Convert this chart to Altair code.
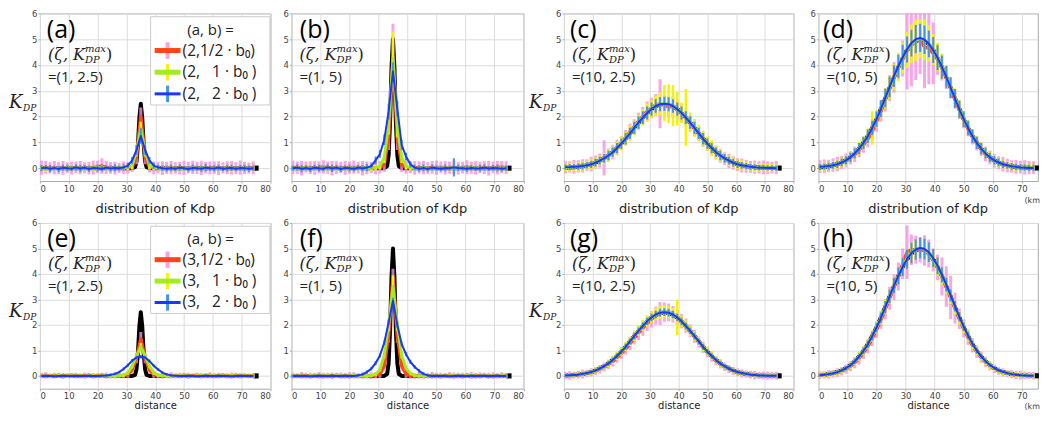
import altair as alt
import pandas as pd

# ---------------- data ----------------
X = [0.5, 2, 3.5, 5, 6.5, 8, 9.5, 11, 12.5, 14,
     15.5, 17, 18.5, 20, 21.5, 23, 24.5, 26, 27.5, 29,
     30.5, 32, 33.5, 35, 36.5, 38, 39.5, 41, 42.5, 44,
     45.5, 47, 48.5, 50, 51.5, 53, 54.5, 56, 57.5, 59,
     60.5, 62, 63.5, 65, 66.5, 68, 69.5, 71, 72.5, 74]

X_TICKS = [0, 10, 20, 30, 40, 50, 60, 70, 80]
Y_TICKS = [0, 1, 2, 3, 4, 5, 6]

# true profiles (black)
TX_N = [0, 31, 32, 33, 33.5, 34, 34.5, 35, 35.5, 36, 36.5, 37, 38, 39, 75]
TN_25 = [0, 0, 0, 0.04, 0.25, 0.9, 1.94, 2.5, 1.94, 0.9, 0.25, 0.04, 0, 0, 0]
TN_5 = [0, 0, 0, 0.08, 0.5, 1.8, 3.88, 5.0, 3.88, 1.8, 0.5, 0.08, 0, 0, 0]
TX_B = [0, 2.5, 5, 7.5, 10, 12.5, 15, 17.5, 20, 22.5, 25, 27.5, 30, 32.5, 35,
        37.5, 40, 42.5, 45, 47.5, 50, 52.5, 55, 57.5, 60, 62.5, 65, 67.5, 70, 72.5, 75]
TB_25 = [0.013, 0.027, 0.053, 0.098, 0.17, 0.285, 0.45, 0.67, 0.95, 1.28, 1.63, 1.96, 2.25, 2.43, 2.5,
         2.43, 2.25, 1.96, 1.63, 1.28, 0.95, 0.67, 0.45, 0.285, 0.17, 0.098, 0.053, 0.027, 0.013, 0.006, 0.003]
TB_5 = [0.026, 0.054, 0.106, 0.196, 0.34, 0.57, 0.9, 1.34, 1.9, 2.56, 3.26, 3.92, 4.5, 4.86, 5.0,
        4.86, 4.5, 3.92, 3.26, 2.56, 1.9, 1.34, 0.9, 0.57, 0.34, 0.196, 0.106, 0.054, 0.026, 0.012, 0.006]

# ---- panel (a) ----
RED_A = [0.02, 0.03, 0.01, 0.02, 0.0, 0.01, 0.02, 0.0, 0.03, 0.02,
         0.01, 0.0, 0.02, 0.05, 0.08, 0.03, 0.01, 0.0, 0.01, 0.02,
         0.01, 0.05, 0.45, 2.0, 0.45, 0.05, 0.01, 0.02, 0.0, 0.01,
         0.02, 0.01, 0.0, 0.01, 0.02, 0.03, 0.01, 0.0, 0.02, 0.01,
         0.02, 0.0, 0.01, 0.02, 0.01, 0.0, 0.02, 0.01, 0.0, 0.01]
GREEN_A = [0.0, -0.02, 0.01, 0.0, -0.01, 0.01, 0.0, -0.02, 0.0, 0.01,
           0.0, -0.01, 0.01, 0.0, 0.02, 0.0, -0.01, 0.0, 0.01, 0.02,
           0.04, 0.12, 0.65, 1.55, 0.65, 0.12, 0.03, 0.0, -0.01, 0.0,
           0.01, 0.0, -0.02, 0.0, 0.01, 0.0, -0.01, 0.0, 0.01, 0.0,
           -0.01, 0.0, 0.01, 0.0, -0.02, 0.0, 0.01, 0.0, -0.01, 0.0]
BLUE_A = [0.0, 0.02, -0.02, 0.01, -0.03, 0.02, 0.0, -0.02, 0.03, -0.01,
          0.02, -0.03, 0.01, 0.0, -0.02, 0.02, -0.01, 0.01, 0.0, 0.03,
          0.1, 0.3, 0.7, 1.25, 0.7, 0.3, 0.1, 0.03, 0.0, -0.02,
          0.01, -0.02, 0.02, 0.0, -0.03, 0.01, 0.0, -0.02, 0.02, 0.0,
          -0.01, 0.02, -0.02, 0.0, 0.01, -0.02, 0.01, 0.0, -0.02, 0.0]
PINK_A = [0.28, 0.25, 0.22, 0.26, 0.24, 0.27, 0.2, 0.25, 0.23, 0.26,
          0.22, 0.25, 0.27, 0.24, 0.3, 0.26, 0.23, 0.25, 0.2, 0.24,
          0.22, 0.2, 0.3, 0.35, 0.3, 0.22, 0.25, 0.23, 0.27, 0.24,
          0.26, 0.22, 0.25, 0.28, 0.23, 0.26, 0.24, 0.27, 0.22, 0.25,
          0.24, 0.27, 0.22, 0.25, 0.26, 0.23, 0.28, 0.24, 0.22, 0.25]
YELLOW_A = [0.1, 0.12, 0.08, 0.1, 0.11, 0.09, 0.12, 0.1, 0.08, 0.11,
            0.1, 0.09, 0.12, 0.1, 0.08, 0.11, 0.1, 0.12, 0.09, 0.1,
            0.11, 0.15, 0.2, 0.25, 0.2, 0.15, 0.1, 0.09, 0.11, 0.1,
            0.12, 0.08, 0.1, 0.11, 0.09, 0.1, 0.12, 0.1, 0.08, 0.11,
            0.1, 0.09, 0.12, 0.1, 0.11, 0.08, 0.1, 0.12, 0.09, 0.1]
LBLUE_A = [0.12, 0.1, 0.14, 0.09, 0.12, 0.11, 0.13, 0.1, 0.12, 0.14,
           0.1, 0.12, 0.09, 0.13, 0.11, 0.1, 0.12, 0.14, 0.1, 0.12,
           0.11, 0.13, 0.2, 0.3, 0.2, 0.13, 0.12, 0.1, 0.11, 0.12,
           0.13, 0.1, 0.12, 0.09, 0.11, 0.13, 0.1, 0.12, 0.14, 0.1,
           0.12, 0.11, 0.1, 0.13, 0.12, 0.1, 0.11, 0.13, 0.12, 0.1]

# ---- panel (b) ----
RED_B = [0.03, 0.02, 0.0, 0.04, 0.02, 0.01, 0.03, 0.05, 0.02, 0.0,
         0.02, 0.03, 0.01, 0.02, 0.04, 0.02, 0.0, 0.01, 0.03, 0.02,
         0.03, 0.15, 1.2, 4.3, 1.2, 0.15, 0.03, 0.02, 0.01, 0.03,
         0.02, 0.0, 0.03, 0.02, 0.04, 0.01, 0.02, 0.03, 0.0, 0.02,
         0.04, 0.02, 0.01, 0.03, 0.02, 0.0, 0.03, 0.02, 0.04, 0.02]
GREEN_B = [0.0, -0.02, 0.01, 0.02, 0.0, -0.01, 0.01, 0.0, -0.02, 0.01,
           0.0, 0.01, -0.01, 0.0, 0.02, 0.0, -0.01, 0.01, 0.0, 0.02,
           0.08, 0.4, 1.7, 4.25, 1.6, 0.4, 0.08, 0.02, 0.0, -0.01,
           0.01, 0.0, -0.02, 0.01, 0.0, 0.02, -0.01, 0.0, 0.01, 0.0,
           -0.01, 0.01, 0.0, 0.02, -0.01, 0.0, 0.01, -0.02, 0.0, 0.01]
BLUE_B = [0.0, 0.02, -0.02, 0.01, -0.03, 0.02, 0.0, -0.02, 0.03, -0.01,
          0.02, -0.03, 0.01, 0.0, -0.02, 0.02, -0.01, 0.02, 0.08, 0.3,
          0.55, 1.1, 2.2, 3.75, 2.3, 0.9, 0.45, 0.15, 0.02, -0.02,
          0.01, -0.03, 0.02, 0.0, -0.02, 0.01, 0.0, 0.03, 0.01, 0.0,
          -0.02, 0.01, -0.01, 0.0, 0.02, -0.01, 0.01, 0.0, -0.02, 0.0]
PINK_B = [0.26, 0.24, 0.28, 0.22, 0.25, 0.27, 0.23, 0.26, 0.24, 0.28,
          0.25, 0.22, 0.27, 0.24, 0.26, 0.23, 0.28, 0.25, 0.22, 0.26,
          0.24, 0.3, 0.5, 1.3, 0.5, 0.3, 0.25, 0.22, 0.27, 0.24,
          0.26, 0.23, 0.25, 0.28, 0.22, 0.26, 0.24, 0.27, 0.25, 0.23,
          0.27, 0.24, 0.26, 0.22, 0.25, 0.28, 0.23, 0.26, 0.24, 0.25]
YELLOW_B = [0.1, 0.12, 0.09, 0.11, 0.1, 0.13, 0.09, 0.1, 0.12, 0.1,
            0.11, 0.09, 0.1, 0.12, 0.1, 0.11, 0.09, 0.12, 0.1, 0.11,
            0.12, 0.2, 0.4, 1.05, 0.4, 0.2, 0.12, 0.1, 0.11, 0.09,
            0.1, 0.12, 0.1, 0.09, 0.11, 0.1, 0.12, 0.1, 0.09, 0.11,
            0.1, 0.12, 0.09, 0.1, 0.11, 0.1, 0.12, 0.09, 0.1, 0.11]
LBLUE_B = [0.1, 0.12, 0.14, 0.1, 0.12, 0.11, 0.13, 0.1, 0.12, 0.14,
           0.1, 0.12, 0.1, 0.13, 0.11, 0.1, 0.12, 0.14, 0.1, 0.15,
           0.15, 0.2, 0.3, 0.35, 0.3, 0.2, 0.15, 0.12, 0.11, 0.12,
           0.13, 0.1, 0.12, 0.1, 0.11, 0.13, 0.1, 0.35, 0.12, 0.1,
           0.12, 0.11, 0.1, 0.13, 0.12, 0.1, 0.11, 0.13, 0.12, 0.1]

# ---- panel (c) ----
RED_C = [0.04, 0.05, 0.05, 0.07, 0.09, 0.12, 0.16, 0.24, 0.3, 0.4,
         0.5, 0.63, 0.8, 0.97, 1.18, 1.4, 1.6, 1.82, 2.02, 2.2,
         2.33, 2.45, 2.5, 2.44, 2.38, 2.4, 2.27, 2.12, 1.94, 1.75,
         1.54, 1.33, 1.12, 0.94, 0.77, 0.6, 0.48, 0.37, 0.28, 0.2,
         0.14, 0.1, 0.07, 0.05, 0.04, 0.03, 0.03, 0.02, 0.02, 0.02]
GREEN_C = [0.03, 0.04, 0.04, 0.06, 0.08, 0.11, 0.15, 0.22, 0.29, 0.38,
           0.5, 0.62, 0.78, 0.96, 1.15, 1.36, 1.57, 1.78, 1.97, 2.15,
           2.3, 2.42, 2.5, 2.52, 2.5, 2.42, 2.3, 2.15, 1.97, 1.78,
           1.57, 1.36, 1.15, 0.95, 0.78, 0.62, 0.49, 0.38, 0.28, 0.21,
           0.15, 0.11, 0.08, 0.05, 0.04, 0.02, 0.02, 0.01, 0.01, 0.01]
BLUE_C = [0.04, 0.04, 0.05, 0.06, 0.08, 0.11, 0.15, 0.21, 0.29, 0.38,
          0.49, 0.62, 0.78, 0.95, 1.14, 1.35, 1.56, 1.77, 1.96, 2.14,
          2.29, 2.41, 2.48, 2.5, 2.48, 2.41, 2.29, 2.14, 1.96, 1.77,
          1.56, 1.35, 1.14, 0.95, 0.78, 0.62, 0.49, 0.38, 0.29, 0.21,
          0.15, 0.11, 0.08, 0.05, 0.04, 0.02, 0.02, 0.01, 0.01, 0.0]
PINK_C = [0.25, 0.22, 0.27, 0.24, 0.26, 0.23, 0.28, 0.25, 0.27, 0.68,
          0.26, 0.28, 0.3, 0.27, 0.3, 0.32, 0.3, 0.33, 0.35, 0.38,
          0.4, 0.42, 0.95, 0.4, 0.42, 0.38, 0.36, 0.35, 0.33, 0.3,
          0.3, 0.28, 0.3, 0.27, 0.28, 0.26, 0.27, 0.25, 0.28, 0.26,
          0.24, 0.27, 0.25, 0.23, 0.26, 0.24, 0.27, 0.25, 0.23, 0.26]
YELLOW_C = [0.15, 0.18, 0.15, 0.17, 0.2, 0.18, 0.2, 0.22, 0.2, 0.22,
            0.25, 0.22, 0.25, 0.28, 0.25, 0.3, 0.28, 0.3, 0.32, 0.35,
            0.35, 0.4, 0.45, 0.7, 0.75, 0.8, 0.65, 0.4, 1.1, 0.38,
            0.35, 0.32, 0.3, 0.28, 0.3, 0.27, 0.25, 0.22, 0.2, 0.2,
            0.18, 0.2, 0.17, 0.15, 0.18, 0.16, 0.15, 0.17, 0.15, 0.14]
LBLUE_C = [0.1, 0.12, 0.1, 0.12, 0.13, 0.12, 0.14, 0.15, 0.15, 0.17,
           0.18, 0.18, 0.2, 0.2, 0.22, 0.22, 0.24, 0.24, 0.25, 0.25,
           0.26, 0.26, 0.27, 0.27, 0.27, 0.26, 0.26, 0.25, 0.25, 0.24,
           0.24, 0.22, 0.22, 0.2, 0.2, 0.18, 0.18, 0.17, 0.15, 0.15,
           0.14, 0.13, 0.12, 0.12, 0.11, 0.1, 0.1, 0.1, 0.1, 0.1]

# ---- panel (d) ----
RED_D = [0.06, 0.07, 0.09, 0.12, 0.16, 0.22, 0.3, 0.4, 0.53, 0.7,
         0.9, 1.12, 1.42, 1.8, 2.2, 2.65, 3.1, 3.52, 3.9, 4.25,
         4.55, 4.78, 4.92, 4.95, 4.7, 4.65, 4.45, 4.22, 3.9, 3.52,
         3.1, 2.68, 2.26, 1.88, 1.54, 1.22, 0.96, 0.74, 0.55, 0.41,
         0.29, 0.21, 0.15, 0.1, 0.07, 0.05, 0.04, 0.03, 0.02, 0.02]
GREEN_D = [0.05, 0.06, 0.08, 0.11, 0.16, 0.22, 0.3, 0.42, 0.57, 0.76,
           0.98, 1.24, 1.56, 1.9, 2.28, 2.7, 3.12, 3.54, 3.92, 4.28,
           4.58, 4.82, 4.96, 5.02, 4.98, 4.84, 4.6, 4.3, 3.94, 3.56,
           3.14, 2.72, 2.3, 1.92, 1.57, 1.25, 0.99, 0.77, 0.58, 0.43,
           0.31, 0.22, 0.16, 0.11, 0.07, 0.05, 0.03, 0.02, 0.02, 0.01]
BLUE_D = [0.05, 0.06, 0.08, 0.11, 0.15, 0.22, 0.3, 0.42, 0.57, 0.76,
          0.98, 1.24, 1.56, 1.9, 2.3, 2.72, 3.15, 3.57, 3.95, 4.3,
          4.6, 4.85, 5.0, 5.05, 4.98, 4.82, 4.58, 4.28, 3.92, 3.54,
          3.12, 2.7, 2.28, 1.9, 1.56, 1.24, 0.98, 0.76, 0.57, 0.42,
          0.3, 0.22, 0.15, 0.11, 0.07, 0.05, 0.03, 0.02, 0.01, 0.01]
PINK_D = [0.25, 0.27, 0.24, 0.26, 0.28, 0.25, 0.27, 0.26, 0.3, 0.28,
          0.3, 0.32, 0.35, 0.38, 0.4, 0.45, 0.5, 0.6, 0.5, 0.7,
          1.5, 1.6, 1.5, 1.3, 1.6, 1.4, 1.2, 0.6, 0.5, 0.45,
          0.4, 0.38, 0.35, 0.33, 0.3, 0.3, 0.28, 0.27, 0.28, 0.26,
          0.27, 0.25, 0.28, 0.26, 0.24, 0.27, 0.25, 0.28, 0.26, 0.25]
YELLOW_D = [0.15, 0.17, 0.15, 0.16, 0.18, 0.17, 0.2, 0.2, 0.22, 0.25,
            0.25, 0.3, 0.65, 0.35, 0.35, 0.4, 0.45, 0.5, 0.55, 0.6,
            0.7, 0.75, 0.8, 0.75, 0.8, 0.7, 0.6, 0.55, 0.5, 0.45,
            0.4, 0.38, 0.35, 0.3, 0.28, 0.25, 0.25, 0.22, 0.2, 0.2,
            0.18, 0.18, 0.16, 0.16, 0.15, 0.15, 0.15, 0.14, 0.14, 0.13]
LBLUE_D = [0.12, 0.12, 0.13, 0.13, 0.14, 0.15, 0.16, 0.18, 0.2, 0.22,
           0.24, 0.26, 0.28, 0.3, 0.33, 0.36, 0.4, 0.42, 0.45, 0.48,
           0.5, 0.52, 0.55, 0.55, 0.55, 0.52, 0.5, 0.48, 0.45, 0.42,
           0.4, 0.36, 0.33, 0.3, 0.28, 0.26, 0.24, 0.22, 0.2, 0.18,
           0.16, 0.15, 0.14, 0.13, 0.13, 0.12, 0.12, 0.12, 0.12, 0.12]

# ---- panel (e) ----
RED_E = [0.01, 0.02, 0.0, 0.01, 0.02, 0.0, 0.01, 0.02, 0.01, 0.0,
         0.01, 0.02, 0.0, 0.01, 0.02, 0.01, 0.0, 0.01, 0.02, 0.01,
         0.05, 0.25, 0.7, 1.45, 0.7, 0.25, 0.05, 0.01, 0.0, 0.01,
         0.02, 0.0, 0.01, 0.02, 0.0, 0.01, 0.02, 0.0, 0.01, 0.02,
         0.0, 0.01, 0.02, 0.0, 0.01, 0.02, 0.0, 0.01, 0.0, 0.01]
GREEN_E = [0.0, 0.01, -0.01, 0.0, 0.01, 0.0, -0.01, 0.0, 0.01, 0.0,
           -0.01, 0.0, 0.01, 0.0, 0.0, 0.01, 0.0, -0.01, 0.01, 0.03,
           0.12, 0.38, 0.78, 1.15, 0.78, 0.38, 0.12, 0.03, 0.01, 0.0,
           -0.01, 0.0, 0.01, 0.0, 0.0, -0.01, 0.0, 0.01, 0.0, 0.0,
           0.01, 0.0, -0.01, 0.0, 0.01, 0.0, 0.0, -0.01, 0.0, 0.0]
BLUE_E = [0.0, 0.01, 0.0, -0.01, 0.0, 0.01, 0.0, 0.0, 0.01, 0.0,
          0.0, 0.01, 0.0, 0.0, 0.01, 0.02, 0.04, 0.08, 0.15, 0.27,
          0.42, 0.6, 0.72, 0.75, 0.72, 0.58, 0.4, 0.25, 0.13, 0.06,
          0.02, 0.01, 0.0, 0.0, 0.01, 0.0, -0.01, 0.0, 0.01, 0.0,
          0.0, 0.01, 0.0, 0.0, -0.01, 0.0, 0.01, 0.0, 0.0, 0.0]
PINK_E = [0.1, 0.12, 0.09, 0.11, 0.1, 0.12, 0.1, 0.09, 0.11, 0.1,
          0.12, 0.1, 0.11, 0.09, 0.1, 0.12, 0.1, 0.11, 0.09, 0.1,
          0.12, 0.15, 0.2, 0.27, 0.2, 0.15, 0.12, 0.1, 0.11, 0.1,
          0.12, 0.1, 0.11, 0.1, 0.12, 0.09, 0.1, 0.11, 0.1, 0.12,
          0.1, 0.11, 0.09, 0.1, 0.12, 0.1, 0.11, 0.1, 0.09, 0.1]
YELLOW_E = [0.06, 0.05, 0.07, 0.05, 0.06, 0.05, 0.07, 0.06, 0.05, 0.06,
            0.05, 0.07, 0.06, 0.05, 0.06, 0.05, 0.07, 0.06, 0.05, 0.06,
            0.07, 0.08, 0.1, 0.14, 0.1, 0.08, 0.07, 0.06, 0.05, 0.06,
            0.05, 0.07, 0.06, 0.05, 0.06, 0.05, 0.07, 0.06, 0.05, 0.06,
            0.06, 0.05, 0.07, 0.05, 0.06, 0.05, 0.06, 0.07, 0.05, 0.06]
LBLUE_E = [0.04, 0.05, 0.04, 0.05, 0.04, 0.05, 0.04, 0.05, 0.04, 0.05,
           0.04, 0.05, 0.04, 0.05, 0.04, 0.05, 0.05, 0.05, 0.05, 0.06,
           0.06, 0.06, 0.07, 0.07, 0.07, 0.06, 0.06, 0.06, 0.05, 0.05,
           0.05, 0.04, 0.05, 0.04, 0.05, 0.04, 0.05, 0.04, 0.05, 0.04,
           0.05, 0.04, 0.05, 0.04, 0.05, 0.04, 0.05, 0.04, 0.05, 0.04]

# ---- panel (f) ----
RED_F = [0.01, 0.0, 0.02, 0.01, 0.0, 0.01, 0.02, 0.0, 0.01, 0.0,
         0.02, 0.01, 0.0, 0.01, 0.02, 0.0, 0.01, 0.0, 0.01, 0.02,
         0.08, 0.4, 1.6, 3.85, 1.6, 0.4, 0.08, 0.01, 0.0, 0.02,
         0.01, 0.0, 0.02, 0.01, 0.0, 0.01, 0.02, 0.0, 0.01, 0.0,
         0.02, 0.01, 0.0, 0.01, 0.02, 0.0, 0.01, 0.0, 0.02, 0.01]
GREEN_F = [0.0, 0.01, 0.0, -0.01, 0.0, 0.01, 0.0, 0.0, 0.01, 0.0,
           0.0, 0.01, 0.0, 0.0, 0.01, 0.0, 0.01, 0.0, 0.02, 0.06,
           0.25, 0.8, 2.0, 3.5, 2.0, 0.8, 0.3, 0.1, 0.02, 0.0,
           0.01, 0.0, 0.0, 0.01, 0.0, -0.01, 0.0, 0.01, 0.0, 0.0,
           0.01, 0.0, 0.0, -0.01, 0.0, 0.01, 0.0, 0.0, 0.01, 0.0]
BLUE_F = [0.0, 0.01, 0.0, 0.0, -0.01, 0.0, 0.01, 0.0, 0.0, 0.01,
          0.0, 0.0, 0.01, 0.0, 0.0, 0.02, 0.06, 0.15, 0.28, 0.5,
          0.8, 1.3, 2.1, 2.95, 2.0, 1.25, 0.85, 0.55, 0.35, 0.2,
          0.08, 0.02, 0.0, 0.01, 0.0, 0.0, -0.01, 0.0, 0.01, 0.0,
          0.0, 0.01, 0.0, 0.0, 0.01, 0.0, 0.0, 0.01, 0.0, 0.0]
PINK_F = [0.12, 0.1, 0.13, 0.11, 0.12, 0.1, 0.13, 0.12, 0.11, 0.13,
          0.1, 0.12, 0.11, 0.13, 0.12, 0.1, 0.12, 0.11, 0.13, 0.12,
          0.15, 0.2, 0.3, 0.35, 0.3, 0.2, 0.15, 0.12, 0.11, 0.13,
          0.12, 0.1, 0.13, 0.11, 0.12, 0.1, 0.12, 0.13, 0.11, 0.12,
          0.1, 0.13, 0.11, 0.12, 0.1, 0.12, 0.13, 0.11, 0.12, 0.1]
YELLOW_F = [0.06, 0.07, 0.05, 0.06, 0.07, 0.06, 0.05, 0.07, 0.06, 0.05,
            0.07, 0.06, 0.05, 0.06, 0.07, 0.06, 0.05, 0.07, 0.06, 0.07,
            0.08, 0.12, 0.25, 0.45, 0.25, 0.12, 0.08, 0.07, 0.06, 0.05,
            0.07, 0.06, 0.05, 0.07, 0.06, 0.05, 0.06, 0.07, 0.06, 0.05,
            0.06, 0.07, 0.05, 0.06, 0.07, 0.06, 0.05, 0.06, 0.07, 0.06]
LBLUE_F = [0.05, 0.06, 0.05, 0.06, 0.05, 0.06, 0.05, 0.06, 0.05, 0.06,
           0.05, 0.06, 0.05, 0.06, 0.05, 0.06, 0.06, 0.07, 0.07, 0.08,
           0.08, 0.09, 0.1, 0.12, 0.1, 0.09, 0.08, 0.08, 0.07, 0.07,
           0.06, 0.06, 0.05, 0.06, 0.05, 0.06, 0.05, 0.06, 0.05, 0.06,
           0.05, 0.06, 0.05, 0.06, 0.05, 0.06, 0.05, 0.06, 0.05, 0.06]

# ---- panel (g) ----
RED_G = [0.01, 0.02, 0.03, 0.05, 0.07, 0.1, 0.14, 0.19, 0.26, 0.35,
         0.45, 0.57, 0.72, 0.88, 1.06, 1.27, 1.48, 1.69, 1.88, 2.06,
         2.22, 2.36, 2.45, 2.5, 2.49, 2.42, 2.3, 2.15, 1.97, 1.77,
         1.55, 1.33, 1.12, 0.93, 0.76, 0.6, 0.47, 0.36, 0.27, 0.2,
         0.14, 0.1, 0.07, 0.05, 0.03, 0.02, 0.02, 0.01, 0.01, 0.01]
GREEN_G = [0.02, 0.03, 0.04, 0.06, 0.08, 0.11, 0.15, 0.21, 0.28, 0.38,
           0.49, 0.62, 0.78, 0.96, 1.15, 1.36, 1.57, 1.78, 1.97, 2.15,
           2.3, 2.42, 2.49, 2.52, 2.5, 2.42, 2.3, 2.15, 1.97, 1.77,
           1.56, 1.35, 1.14, 0.95, 0.78, 0.62, 0.49, 0.38, 0.29, 0.21,
           0.15, 0.11, 0.08, 0.05, 0.04, 0.02, 0.02, 0.01, 0.01, 0.01]
BLUE_G = [0.02, 0.03, 0.04, 0.05, 0.08, 0.11, 0.15, 0.21, 0.29, 0.38,
          0.49, 0.62, 0.78, 0.95, 1.14, 1.35, 1.56, 1.77, 1.96, 2.14,
          2.29, 2.41, 2.48, 2.5, 2.48, 2.41, 2.29, 2.14, 1.96, 1.77,
          1.56, 1.35, 1.14, 0.95, 0.78, 0.62, 0.49, 0.38, 0.29, 0.21,
          0.15, 0.11, 0.08, 0.05, 0.04, 0.02, 0.02, 0.01, 0.01, 0.01]
PINK_G = [0.14, 0.16, 0.13, 0.15, 0.17, 0.14, 0.16, 0.15, 0.17, 0.18,
          0.18, 0.2, 0.2, 0.22, 0.22, 0.25, 0.25, 0.28, 0.3, 0.3,
          0.32, 0.35, 0.45, 0.38, 0.35, 0.32, 0.3, 0.28, 0.28, 0.25,
          0.25, 0.22, 0.22, 0.2, 0.2, 0.18, 0.18, 0.17, 0.16, 0.16,
          0.15, 0.16, 0.14, 0.15, 0.17, 0.14, 0.15, 0.16, 0.14, 0.15]
YELLOW_G = [0.08, 0.09, 0.08, 0.09, 0.1, 0.1, 0.11, 0.12, 0.12, 0.13,
            0.14, 0.15, 0.16, 0.17, 0.18, 0.19, 0.2, 0.21, 0.22, 0.22,
            0.23, 0.24, 0.25, 0.25, 0.25, 0.24, 0.7, 0.22, 0.21, 0.2,
            0.19, 0.18, 0.17, 0.16, 0.15, 0.14, 0.13, 0.12, 0.11, 0.1,
            0.1, 0.09, 0.09, 0.08, 0.08, 0.08, 0.08, 0.08, 0.08, 0.08]
LBLUE_G = [0.06, 0.06, 0.06, 0.07, 0.07, 0.07, 0.08, 0.08, 0.09, 0.09,
           0.1, 0.1, 0.11, 0.11, 0.12, 0.12, 0.13, 0.13, 0.14, 0.14,
           0.15, 0.15, 0.15, 0.15, 0.15, 0.15, 0.15, 0.14, 0.14, 0.13,
           0.13, 0.12, 0.12, 0.11, 0.11, 0.1, 0.1, 0.09, 0.09, 0.08,
           0.08, 0.07, 0.07, 0.07, 0.06, 0.06, 0.06, 0.06, 0.06, 0.06]

# ---- panel (h) ----
RED_H = [0.03, 0.04, 0.06, 0.09, 0.13, 0.19, 0.27, 0.38, 0.52, 0.7,
         0.91, 1.16, 1.47, 1.82, 2.2, 2.62, 3.05, 3.48, 3.9, 4.4,
         4.85, 4.95, 4.95, 4.95, 4.92, 4.8, 4.55, 4.25, 3.9, 3.5,
         3.08, 2.66, 2.24, 1.86, 1.52, 1.2, 0.95, 0.74, 0.55, 0.4,
         0.28, 0.2, 0.14, 0.1, 0.07, 0.04, 0.03, 0.02, 0.02, 0.01]
GREEN_H = [0.03, 0.05, 0.07, 0.1, 0.15, 0.22, 0.3, 0.42, 0.57, 0.76,
           0.98, 1.24, 1.56, 1.9, 2.28, 2.7, 3.12, 3.54, 3.92, 4.3,
           4.6, 4.84, 4.98, 5.02, 4.97, 4.83, 4.58, 4.28, 3.92, 3.54,
           3.12, 2.7, 2.28, 1.9, 1.56, 1.24, 0.98, 0.76, 0.57, 0.42,
           0.3, 0.22, 0.15, 0.11, 0.07, 0.05, 0.03, 0.02, 0.01, 0.01]
BLUE_H = [0.03, 0.05, 0.07, 0.1, 0.15, 0.22, 0.3, 0.42, 0.57, 0.76,
          0.98, 1.24, 1.56, 1.9, 2.28, 2.7, 3.12, 3.54, 3.92, 4.28,
          4.58, 4.82, 4.96, 5.02, 4.98, 4.85, 4.62, 4.32, 3.96, 3.58,
          3.16, 2.74, 2.32, 1.93, 1.58, 1.26, 0.99, 0.77, 0.58, 0.43,
          0.31, 0.22, 0.16, 0.11, 0.07, 0.05, 0.03, 0.02, 0.01, 0.01]
PINK_H = [0.15, 0.14, 0.16, 0.15, 0.17, 0.16, 0.18, 0.2, 0.22, 0.25,
          0.25, 0.28, 0.3, 0.32, 0.35, 0.4, 0.45, 0.5, 0.55, 0.6,
          1.05, 0.6, 0.55, 0.5, 0.6, 0.55, 0.45, 0.5, 0.75, 0.8,
          0.85, 0.6, 0.4, 0.35, 0.3, 0.28, 0.25, 0.22, 0.2, 0.18,
          0.17, 0.15, 0.16, 0.14, 0.15, 0.16, 0.17, 0.15, 0.14, 0.15]
YELLOW_H = [0.1, 0.1, 0.1, 0.11, 0.11, 0.12, 0.13, 0.14, 0.15, 0.17,
            0.18, 0.2, 0.22, 0.24, 0.26, 0.28, 0.3, 0.32, 0.34, 0.35,
            0.36, 0.37, 0.38, 0.38, 0.38, 0.37, 0.36, 0.35, 0.34, 0.32,
            0.3, 0.28, 0.26, 0.24, 0.22, 0.2, 0.18, 0.16, 0.15, 0.14,
            0.13, 0.12, 0.11, 0.11, 0.1, 0.1, 0.1, 0.1, 0.1, 0.1]
LBLUE_H = [0.06, 0.06, 0.07, 0.07, 0.08, 0.08, 0.09, 0.1, 0.11, 0.12,
           0.13, 0.15, 0.17, 0.19, 0.21, 0.24, 0.27, 0.3, 0.33, 0.36,
           0.38, 0.4, 0.4, 0.4, 0.4, 0.38, 0.36, 0.33, 0.3, 0.27,
           0.24, 0.21, 0.19, 0.17, 0.15, 0.13, 0.12, 0.11, 0.1, 0.09,
           0.08, 0.08, 0.07, 0.07, 0.07, 0.06, 0.06, 0.06, 0.06, 0.06]

# panel label, zeta, Kmax, a, truth x, truth y, red, green, blue, pink err, yellow err, light-blue err, label x
PANELS = [
    ["(a)", "1", "2.5", "2", TX_N, TN_25, RED_A, GREEN_A, BLUE_A, PINK_A, YELLOW_A, LBLUE_A, 2.4],
    ["(b)", "1", "5", "2", TX_N, TN_5, RED_B, GREEN_B, BLUE_B, PINK_B, YELLOW_B, LBLUE_B, 2.9],
    ["(c)", "10", "2.5", "2", TX_B, TB_25, RED_C, GREEN_C, BLUE_C, PINK_C, YELLOW_C, LBLUE_C, 2.1],
    ["(d)", "10", "5", "2", TX_B, TB_5, RED_D, GREEN_D, BLUE_D, PINK_D, YELLOW_D, LBLUE_D, 1.6],
    ["(e)", "1", "2.5", "3", TX_N, TN_25, RED_E, GREEN_E, BLUE_E, PINK_E, YELLOW_E, LBLUE_E, 2.5],
    ["(f)", "1", "5", "3", TX_N, TN_5, RED_F, GREEN_F, BLUE_F, PINK_F, YELLOW_F, LBLUE_F, 2.9],
    ["(g)", "10", "2.5", "3", TX_B, TB_25, RED_G, GREEN_G, BLUE_G, PINK_G, YELLOW_G, LBLUE_G, 2.1],
    ["(h)", "10", "5", "3", TX_B, TB_5, RED_H, GREEN_H, BLUE_H, PINK_H, YELLOW_H, LBLUE_H, 1.6],
]
for p in PANELS:
    for arr in p[6:12]:
        assert len(arr) == len(X), (p[0], len(arr))

# legend content (data units of the panel)
LEG_BOX = [38.4, 79.8, 5.87, 2.45]
LEG_HEAD = "(a, b) ="
LEG_ROWS_Y = [4.56, 3.72, 2.88]
LEG_B = ["1/2", "\u00a0\u00a0 1", "\u00a0\u00a0 2"]

# ---------------- style ----------------
C_PINK = "#f590e2"
C_RED = "#ff4614"
C_YEL = "#f4f400"
C_GRN = "#a3ec1e"
C_LBL = "#3d97e3"
C_BLU = "#1a36ff"
F_SANS = "Open Sans"
F_MATH = "DejaVu Serif"
F_AX = "DejaVu Sans"

# the whole figure has to stay inside the 1049x424 window (no page overflow)
ROW_H = [168, 166]
WIDTHS = [231, 232.5, 230, 219.8]
GAPS = [20.1, 40.0, 24.7]
XMAX = [80, 80, 80, 75.5]
KDP_DX = {0: -31, 2: -35}
ROW_GAP = 42


def make_panel(p, row, col):
    lab, zeta, kmax, a_val, tx, ty, red, grn, blu, pnk, yel, lbl, labx = p
    H, W, xmax = ROW_H[row], WIDTHS[col], XMAX[col]
    xs = alt.Scale(domain=[0, xmax], nice=False, zero=False)
    ys = alt.Scale(domain=[-0.5, 6], nice=False, zero=False)
    xvals = [t for t in X_TICKS if t <= xmax]
    if row == 1:
        xax = alt.Axis(values=xvals, title="distance")
    else:
        xax = alt.Axis(values=xvals, title=None)
    yax = alt.Axis(values=Y_TICKS, title=None)

    def ex(f="x"):
        return alt.X(f, type="quantitative", scale=xs, axis=xax)

    def ey(f="y"):
        return alt.Y(f, type="quantitative", scale=ys, axis=yax)

    L = []
    tdf = pd.DataFrame({"x": tx, "y": ty})
    L.append(alt.Chart(tdf).mark_line(color="black", strokeWidth=4, strokeJoin="round", clip=True)
             .encode(x=ex(), y=ey()))
    L.append(alt.Chart(tdf.tail(1)).mark_square(color="black", size=26, opacity=1)
             .encode(x=ex(), y=ey()))
    sets = [(red, pnk, C_PINK, 3, 0.8, C_RED, 3.5),
            (grn, yel, C_YEL, 2.5, 1.0, C_GRN, 3),
            (blu, lbl, C_LBL, 2, 1.0, C_BLU, 2)]
    for vals, errs, bc, bw, bo, lc, lw in sets:
        edf = pd.DataFrame({"x": X,
                            "lo": [v - e for v, e in zip(vals, errs)],
                            "hi": [v + e for v, e in zip(vals, errs)]})
        L.append(alt.Chart(edf).mark_rule(color=bc, strokeWidth=bw, opacity=bo, clip=True)
                 .encode(x=ex(), y=ey("lo"), y2=alt.Y2("hi")))
        cdf = pd.DataFrame({"x": X, "y": vals})
        L.append(alt.Chart(cdf).mark_line(color=lc, strokeWidth=lw, strokeJoin="round", clip=True)
                 .encode(x=ex(), y=ey()))

    # panel letter
    L.append(alt.Chart(pd.DataFrame({"x": [labx], "y": [5.05], "t": [lab]}))
             .mark_text(align="left", baseline="alphabetic", font=F_SANS, fontSize=25, color="black")
             .encode(x=ex(), y=ey(), text="t:N"))
    # (zeta, K_DP^max)
    zx, zy = 2.8, 4.2
    zdf = pd.DataFrame({"x": [zx], "y": [zy]})
    L.append(alt.Chart(zdf).mark_text(align="left", baseline="alphabetic", font=F_MATH, fontStyle="italic",
                                      fontSize=16, color="#222", text="(\u03b6, K")
             .encode(x=ex(), y=ey()))
    L.append(alt.Chart(zdf).mark_text(align="left", baseline="alphabetic", font=F_MATH, fontStyle="italic",
                                      fontSize=10, color="#222", text="max", dx=37, dy=-8)
             .encode(x=ex(), y=ey()))
    L.append(alt.Chart(zdf).mark_text(align="left", baseline="alphabetic", font=F_MATH, fontStyle="italic",
                                      fontSize=10, color="#222", text="DP", dx=37, dy=3)
             .encode(x=ex(), y=ey()))
    L.append(alt.Chart(zdf).mark_text(align="left", baseline="alphabetic", font=F_MATH,
                                      fontSize=16, color="#222", text=")", dx=58)
             .encode(x=ex(), y=ey()))
    L.append(alt.Chart(pd.DataFrame({"x": [zx], "y": [3.33], "t": [f"=({zeta}, {kmax})"]}))
             .mark_text(align="left", baseline="alphabetic", font=F_SANS, fontSize=15, color="#222")
             .encode(x=ex(), y=ey(), text="t:N"))

    # K_DP axis label
    if col in KDP_DX:
        kx = KDP_DX[col]
        kdf = pd.DataFrame({"y": [2.33]})
        L.append(alt.Chart(kdf).mark_text(align="left", baseline="alphabetic", font=F_MATH, fontStyle="italic",
                                          fontSize=18, color="#222", text="K")
                 .encode(x=alt.value(kx), y=ey()))
        L.append(alt.Chart(kdf).mark_text(align="left", baseline="alphabetic", font=F_MATH, fontStyle="italic",
                                          fontSize=9, color="#222", text="DP", dy=3)
                 .encode(x=alt.value(kx + 14), y=ey()))

    # "(km" fragment at the right edge
    if col == 3:
        kmy = H + 20 if row == 0 else H + 18
        L.append(alt.Chart(pd.DataFrame({"x": [70.9], "t": ["(km"]}))
                 .mark_text(align="left", baseline="middle", font=F_AX, fontSize=8, color="#444")
                 .encode(x=ex(), y=alt.value(kmy), text="t:N"))

    # legend
    if col == 0:
        bx1, bx2, by1, by2 = LEG_BOX
        L.append(alt.Chart(pd.DataFrame({"x": [bx1], "x2": [bx2], "y": [by1], "y2": [by2]}))
                 .mark_rect(fill="white", fillOpacity=0.9, stroke="#cccccc", strokeWidth=1)
                 .encode(x=ex(), x2=alt.X2("x2"), y=ey(), y2=alt.Y2("y2")))
        L.append(alt.Chart(pd.DataFrame({"x": [59.2], "y": [5.36], "t": [LEG_HEAD]}))
                 .mark_text(align="center", baseline="middle", font=F_SANS, fontSize=15, color="#222")
                 .encode(x=ex(), y=ey(), text="t:N"))
        styles = [(C_RED, 5, C_PINK, 4, 0.85), (C_GRN, 5, C_YEL, 3, 1.0), (C_BLU, 3, C_LBL, 3, 1.0)]
        for i, (lc, lw, bc, bw, bo) in enumerate(styles):
            yy = LEG_ROWS_Y[i]
            L.append(alt.Chart(pd.DataFrame({"x": [44.3], "y": [yy - 0.32], "y2": [yy + 0.32]}))
                     .mark_rule(color=bc, strokeWidth=bw, opacity=bo)
                     .encode(x=ex(), y=ey(), y2=alt.Y2("y2")))
            L.append(alt.Chart(pd.DataFrame({"x": [39.8], "x2": [48.8], "y": [yy]}))
                     .mark_rule(color=lc, strokeWidth=lw)
                     .encode(x=ex(), x2=alt.X2("x2"), y=ey()))
            txt = f"({a_val},{LEG_B[i]} \u00b7 b\u2080" + (")" if i == 0 else " )")
            L.append(alt.Chart(pd.DataFrame({"x": [49.5], "y": [yy], "t": [txt]}))
                     .mark_text(align="left", baseline="middle", font=F_SANS, fontSize=15.5, color="#222")
                     .encode(x=ex(), y=ey(), text="t:N"))

    ch = alt.layer(*L).properties(width=W, height=H)
    if row == 1:
        ch = ch.properties(title=alt.TitleParams(text="distribution of Kdp", fontSize=13, font=F_AX,
                                                 fontWeight="normal", color="#222", offset=3))
    return ch


def spacer(w):
    return (alt.Chart(pd.DataFrame({"v": [0]}))
            .mark_point(opacity=0)
            .encode(x=alt.X("v:Q", axis=None), y=alt.Y("v:Q", axis=None))
            .properties(width=w, height=10, view=alt.ViewBackground(stroke="transparent")))


cells = []
for r in range(2):
    for c in range(4):
        cells.append(make_panel(PANELS[r * 4 + c], r, c))
        if c < 3:
            cells.append(spacer(GAPS[c]))

chart = (alt.concat(*cells, columns=7, spacing={"row": ROW_GAP, "column": 0},
                    bounds="flush", align="each")
         .properties(padding=0, background="white")
         .configure_view(stroke="#a8a8a8", strokeWidth=1)
         .configure_axis(grid=True, gridColor="#dcdcdc", gridWidth=1, domain=False,
                         tickColor="#a8a8a8", tickSize=2, labelFont=F_AX, labelFontSize=8.5,
                         labelColor="#444", labelPadding=1, titleFont=F_AX, titleFontSize=10,
                         titleFontWeight="normal", titleColor="#222", titlePadding=0))

chart.save("out.html", embed_options={"renderer": "svg", "actions": False})
